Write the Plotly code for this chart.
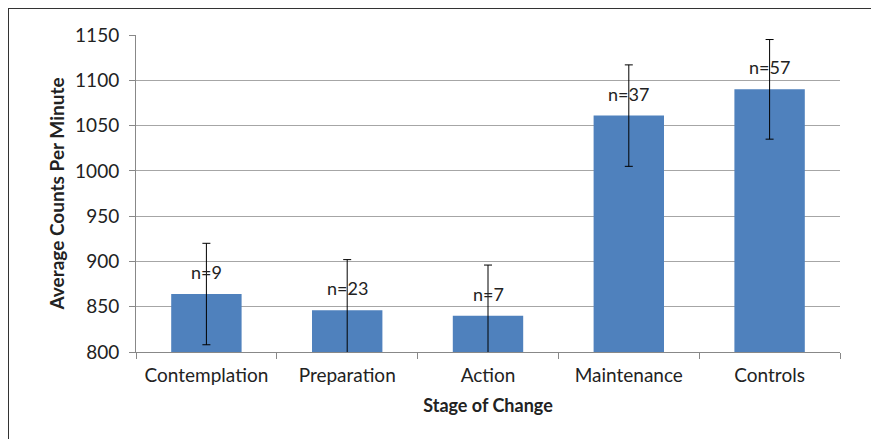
import plotly.graph_objects as go

categories = ["Contemplation", "Preparation", "Action", "Maintenance", "Controls"]
means = [864, 846, 840, 1061, 1090]
errors = [56, 56, 56, 56, 55]
n_labels = ["n=9", "n=23", "n=7", "n=37", "n=57"]
y_ticks = [800, 850, 900, 950, 1000, 1050, 1100, 1150]

# page body has an 8px margin; size figure so the plot area lands where the reference has it
L, T, R, B = 128, 27, 39, 87
W, H = 871, 431
pw, ph = W - L - R, H - T - B

fig = go.Figure()
fig.add_trace(go.Bar(
    x=categories, y=means, width=0.5,
    marker=dict(color="#4f81bd", line=dict(width=0)),
    error_y=dict(type="data", array=errors, visible=True, color="black", thickness=1, width=4),
))
for c, m, lab in zip(categories, means, n_labels):
    fig.add_annotation(x=c, y=m, text=lab, showarrow=False, yshift=22,
                       font=dict(family="Lato", size=18, color="#222"))

fig.update_layout(
    width=W, height=H,
    margin=dict(l=L, r=R, t=T, b=B),
    paper_bgcolor="white", plot_bgcolor="white",
    showlegend=False,
    font=dict(family="Lato", size=18, color="#222"),
    xaxis=dict(
        showline=True, linecolor="#888", linewidth=1,
        ticks="outside", tickson="boundaries", ticklen=6, tickcolor="#888",
        tickfont=dict(size=19), ticklabelstandoff=6,
        title=dict(text="<b>Stage of Change</b>", font=dict(size=18), standoff=14),
    ),
    yaxis=dict(
        range=[800, 1150], tickvals=y_ticks,
        showline=True, linecolor="#888", linewidth=1,
        ticks="outside", ticklen=6, tickcolor="#888",
        showgrid=True, gridcolor="#a6a6a6", gridwidth=1,
        tickfont=dict(size=19), ticklabelstandoff=6,
        title=dict(text="<b>Average Counts Per Minute</b>", font=dict(size=19), standoff=5),
    ),
)
# outer frame (top and left)
fig.add_shape(type="line", xref="paper", yref="paper",
              x0=-L / pw, x1=(W - L) / pw, y0=1 + T / ph, y1=1 + T / ph,
              line=dict(color="#333", width=2))
fig.add_shape(type="line", xref="paper", yref="paper",
              x0=-L / pw, x1=-L / pw, y0=1 + T / ph, y1=-B / ph,
              line=dict(color="#333", width=2))

fig.write_html("out.html")
